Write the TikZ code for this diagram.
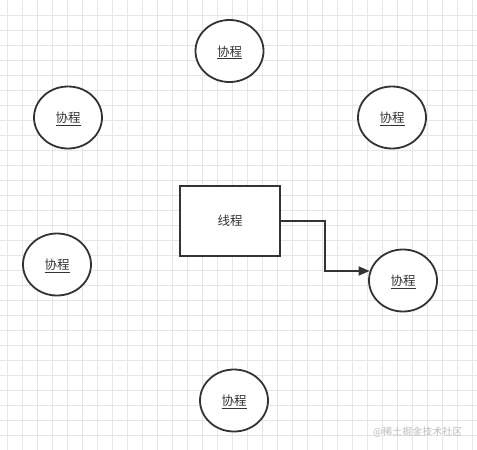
\documentclass[tikz,border=0pt]{standalone}
\usepackage{fontspec}
\setmainfont{Noto Sans CJK SC}
\usetikzlibrary{arrows.meta,shapes.geometric}
\definecolor{gridc}{HTML}{E6E6E6}
\definecolor{ink}{HTML}{333333}
\definecolor{wm}{HTML}{BDBDBD}
\begin{document}
\begin{tikzpicture}[x=1pt,y=-1pt,
  coro/.style={draw=ink,line width=1.8pt,ellipse,minimum width=68pt,minimum height=62pt,inner sep=0pt,fill=white,font=\fontsize{12.5}{15}\selectfont,text=ink,text depth=0pt},
  thread/.style={draw=ink,line width=1.8pt,rectangle,minimum width=100pt,minimum height=70pt,inner sep=0pt,fill=white,font=\fontsize{12.5}{15}\selectfont,text=ink},
  link/.style={draw=ink,line width=1.8pt,-{Triangle[length=11pt,width=9pt]}}]
\useasboundingbox (0,0) rectangle (477,450);
\fill[white] (0,0) rectangle (477,450);
\foreach \gx in {7,22,...,477} \draw[gridc,line width=0.8pt] (\gx,0) -- (\gx,450);
\foreach \gy in {15,30,...,450} \draw[gridc,line width=0.8pt] (0,\gy) -- (477,\gy);
\node[coro] (c1) at (229.5,51) {\underline{协程}};
\node[coro] (c2) at (68,117.5) {\underline{协程}};
\node[coro] (c3) at (392,117.5) {\underline{协程}};
\node[coro] (c4) at (57,264.5) {\underline{协程}};
\node[coro] (c5) at (403,280.5) {\underline{协程}};
\node[coro] (c6) at (234,400.5) {\underline{协程}};
\node[thread] (t) at (230,221) {线程};
\draw[link] (t.east) -| (325,271) -- ([xshift=1.5pt]c5.west |- 0,271);
\node[text=wm,font=\fontsize{10}{12}\selectfont,anchor=east] (wmk) at (466,432) {@稀土掘金技术社区};
\end{tikzpicture}
\end{document}
